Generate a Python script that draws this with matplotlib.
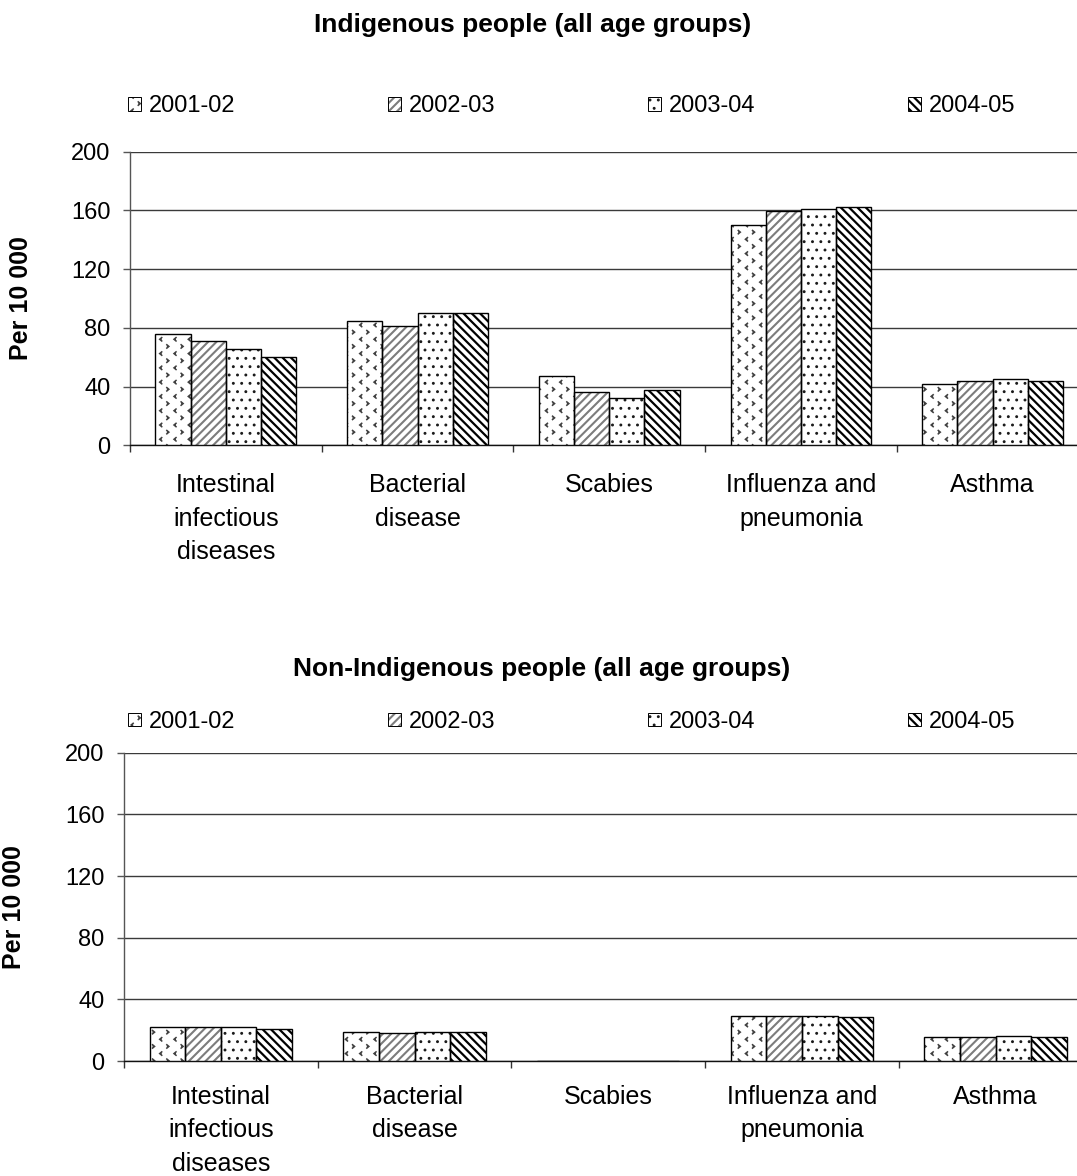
import warnings
import numpy as np
import matplotlib
matplotlib.use("Agg")
import matplotlib.pyplot as plt
from matplotlib import hatch as mhatch
from matplotlib.patches import Rectangle
from matplotlib.path import Path

warnings.filterwarnings("ignore", category=matplotlib.MatplotlibDeprecationWarning)

# ---------------------------------------------------------------- data
categories = ["Intestinal\ninfectious\ndiseases", "Bacterial\ndisease", "Scabies",
              "Influenza and\npneumonia", "Asthma"]
years = ["2001-02", "2002-03", "2003-04", "2004-05"]

# Hospitalisation rates per 10 000, Indigenous people
indig_2001 = [76, 84.5, 47.5, 150, 42]
indig_2002 = [71, 81.5, 36.5, 159.5, 43.5]
indig_2003 = [65.5, 90, 32.5, 161, 45]
indig_2004 = [60, 90, 38, 162, 43.5]

# Hospitalisation rates per 10 000, non-Indigenous people
nonindig_2001 = [22, 19, 0, 29.5, 15.5]
nonindig_2002 = [22, 18, 0, 29.5, 15.5]
nonindig_2003 = [22, 19, 0, 29.5, 16.5]
nonindig_2004 = [20.5, 19, 0, 28.5, 15.5]

y_ticks = [0, 40, 80, 120, 160, 200]


# ------------------------------------------------------ custom hatch
class Chevrons(mhatch.HatchPatternBase):
    """Staggered small '<' and '>' marks; one pair per cell."""

    def __init__(self, hatch, density):
        self.num_cells = hatch.count('v') * 7
        self.num_vertices = self.num_cells ** 2 * 6

    def set_vertices_and_codes(self, vertices, codes):
        n = self.num_cells
        step = 1.0 / n
        s = 0.017
        lt = np.array([[s * 0.6, s], [-s * 0.6, 0.0], [s * 0.6, -s]])
        gt = lt * [-1, 1]
        parts = []
        for i in range(n):
            for j in range(n):
                parts.append(lt + [(i + 0.25) * step, (j + 0.25) * step])
                parts.append(gt + [(i + 0.75) * step, (j + 0.75) * step])
        vertices[:] = np.concatenate(parts)
        codes[:] = np.tile([Path.MOVETO, Path.LINETO, Path.LINETO], n * n * 2)


mhatch._hatch_types.append(Chevrons)

# ------------------------------------------------------------- styles
plt.rcParams["font.family"] = ["Liberation Sans", "DejaVu Sans"]
plt.rcParams["font.size"] = 18
plt.rcParams["hatch.linewidth"] = 1.2

small_font = 17   # tick numbers and legend entries
title_font = 19

series_hatch = ["v", "////", "..", "\\\\\\\\"]
series_hcolor = ["#404040", "#7c7c7c", "#1a1a1a", "#000000"]
series_hlw = [1.1, 1.5, 0.9, 1.6]

W, H = 1077, 1176
fig = plt.figure(figsize=(W / 100, H / 100), dpi=100)


def px_rect(x0, y0, x1, y1):
    """Figure-fraction rect from pixel corners (top-left origin)."""
    return [x0 / W, 1 - y1 / H, (x1 - x0) / W, (y1 - y0) / H]


def hatched(artist, i):
    if hasattr(artist, "set_hatch_linewidth"):
        artist.set_hatch_linewidth(series_hlw[i])


def draw_panel(rect, series, title, title_x, title_y, legend_y, label_pad):
    ax = fig.add_axes(rect)
    x = np.arange(len(categories))
    group = 0.735
    bw = group / len(series)
    for i, vals in enumerate(series):
        pos = x + (i - (len(series) - 1) / 2) * bw
        with plt.rc_context({"hatch.linewidth": series_hlw[i]}):
            bars = ax.bar(pos, vals, width=bw, facecolor="white",
                          edgecolor=series_hcolor[i], hatch=series_hatch[i],
                          linewidth=0, zorder=3)
        for b in bars:
            hatched(b, i)
        ax.bar(pos, vals, width=bw, fill=False, edgecolor="black",
               linewidth=1.0, zorder=4)

    ax.set_xlim(-0.5, len(categories) - 0.5)
    ax.set_ylim(0, 200)
    ax.set_yticks(y_ticks)
    ax.yaxis.grid(True, color="#3a3a3a", linewidth=1.0, zorder=1)
    ax.set_axisbelow(True)

    ax.set_xticks(x)
    ax.set_xticklabels(categories, linespacing=1.5)
    ax.set_xticks(np.arange(len(categories) + 1) - 0.5, minor=True)
    ax.tick_params(axis="x", which="major", length=0, pad=label_pad)
    ax.tick_params(axis="x", which="minor", length=5, width=1.0, color="#333333")
    ax.tick_params(axis="y", length=5, width=1.0, color="#555555", pad=9,
                   labelsize=small_font)

    for side in ("top", "right"):
        ax.spines[side].set_visible(False)
    ax.spines["left"].set_color("#555555")
    ax.spines["left"].set_linewidth(1.0)
    ax.spines["bottom"].set_color("#111111")
    ax.spines["bottom"].set_linewidth(1.0)

    ax.set_ylabel("Per 10 000", fontweight="bold")
    ax.yaxis.set_label_coords(-0.101, 0.5)

    fig.text(title_x / W, 1 - title_y / H, title, ha="center", va="baseline",
             fontweight="bold", fontsize=title_font)

    # legend row: small hatched squares followed by the year
    for i, yr in enumerate(years):
        px0 = 128 + i * 260
        sq = 13
        r = px_rect(px0, legend_y - sq / 2, px0 + sq, legend_y + sq / 2)
        with plt.rc_context({"hatch.linewidth": series_hlw[i]}):
            p = Rectangle((r[0], r[1]), r[2], r[3], transform=fig.transFigure,
                          facecolor="white", edgecolor=series_hcolor[i],
                          hatch=series_hatch[i], linewidth=0)
        hatched(p, i)
        fig.add_artist(p)
        fig.add_artist(Rectangle((r[0], r[1]), r[2], r[3], transform=fig.transFigure,
                                 fill=False, edgecolor="black", linewidth=0.7))
        fig.text((px0 + sq + 8) / W, 1 - legend_y / H, yr, ha="left",
                 va="center_baseline", fontsize=small_font)
    return ax


draw_panel(px_rect(130, 151.7, 1088.5, 445.3),
           [indig_2001, indig_2002, indig_2003, indig_2004],
           "Indigenous people (all age groups)", 533, 32, 104, 20)
draw_panel(px_rect(124, 752.7, 1092.5, 1061),
           [nonindig_2001, nonindig_2002, nonindig_2003, nonindig_2004],
           "Non-Indigenous people (all age groups)", 542, 676, 719, 17)

fig.savefig("out.png", dpi=100, facecolor="white")
